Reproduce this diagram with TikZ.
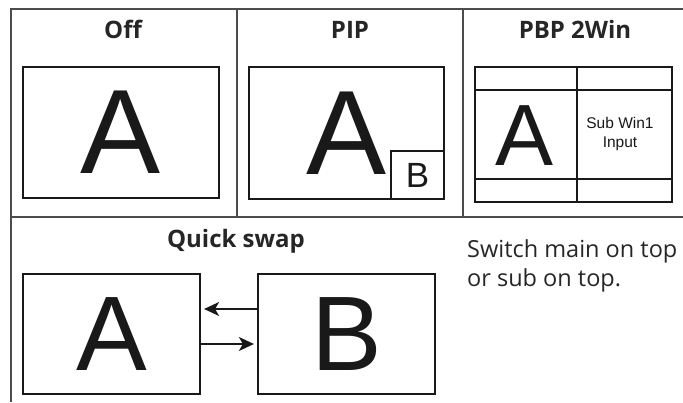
\documentclass[tikz,border=0pt]{standalone}
\usepackage{fontspec}
\setmainfont{Open Sans}
\newfontfamily\letterfont{Liberation Sans}
\usetikzlibrary{arrows.meta, positioning}

\begin{document}
\begin{tikzpicture}[
    x=1pt, y=1pt,
    >={Stealth[length=15pt, width=14pt, inset=4pt]},
    grid/.style={draw=black!70, line width=1.3pt},
    screen/.style={draw=black!90, line width=2.2pt,
                   inner sep=0pt, fill=white, text=black!90},
    title/.style={font=\bfseries\fontsize{24}{28}\selectfont,
                  text=black!85, anchor=base},
    note/.style={font=\fontsize{23.5}{29}\selectfont, text=black!85,
                 anchor=base west, align=left, inner sep=0pt},
    bigletter/.style={font=\letterfont\fontsize{#1}{#1}\selectfont},
    sublabel/.style={font=\letterfont\fontsize{15.5}{19}\selectfont,
                     align=center, text=black!90},
]
\useasboundingbox (0,0) rectangle (683,402);

% ---------------- Table grid ------------------------------------------
\coordinate (tl) at (11,393);
\draw[grid] (11,0) -- (tl) -- (683,393);
\draw[grid] (11,185) -- (683,185);
\draw[grid] (237,393) -- (237,185);
\draw[grid] (463,393) -- (463,185);

% ---------------- Off -------------------------------------------------
\node[title] (offT) at (123,363) {Off};
\node[screen, bigletter=120, minimum width=196pt, minimum height=131pt]
    (off) at (121,269.5) {A};

% ---------------- PIP -------------------------------------------------
\node[title] (pipT) at (350,363) {PIP};
\node[screen, bigletter=120, minimum width=195pt, minimum height=132pt]
    (pip) at (346.5,269) {A};
\node[screen, bigletter=35, minimum width=53pt, minimum height=48pt,
      anchor=south east] (pipB) at (pip.south east) {B};

% ---------------- PBP 2Win --------------------------------------------
\node[title] (pbpT) at (575,363) {PBP 2Win};
\node[screen, minimum width=197pt, minimum height=135pt]
    (pbp) at (573.5,267.5) {};
\coordinate (pbpTop) at (577,335);
\coordinate (pbpBot) at (577,200);
\draw[draw=black!90, line width=2.2pt] (pbpTop) -- (pbpBot);
\draw[draw=black!90, line width=2.2pt]
    (pbp.west |- 0,312) -- (pbp.east |- 0,312)
    (pbp.west |- 0,223) -- (pbp.east |- 0,223);
\node[bigletter=87, text=black!90] (pbpA) at (525,266) {A};
\node[sublabel] (pbpSub) at (620,268) {Sub Win1\\Input};

% ---------------- Quick swap ------------------------------------------
\node[title] (swapT) at (236,154) {Quick swap};
\node[screen, bigletter=106, minimum width=177pt, minimum height=120pt]
    (swapA) at (111.5,68) {A};
\node[screen, bigletter=106, minimum width=177pt, minimum height=120pt]
    (swapB) at (346.5,68) {B};

% Arrows between the two screens
\draw[->, line width=1.4pt, black!90]
    ([yshift=25pt]swapB.west) -- ([yshift=25pt, xshift=3pt]swapA.east);
\draw[->, line width=1.4pt, black!90]
    ([yshift=-10pt]swapA.east) -- ([yshift=-10pt, xshift=-3pt]swapB.west);

\node[note] (swapN) at (467,115) {Switch main on top\\or sub on top.};

\end{tikzpicture}
\end{document}
